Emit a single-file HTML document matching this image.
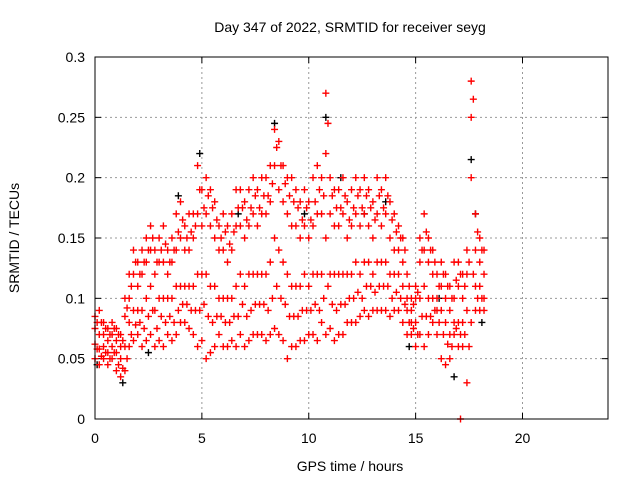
<!DOCTYPE html>
<html><head><meta charset="utf-8"><style>
body{margin:0;background:#fff}
svg{display:block;font-family:"Liberation Sans",sans-serif}
</style></head><body>
<svg id="chart" width="640" height="480" viewBox="0 0 640 480">
<rect width="640" height="480" fill="#fff"/>
<text x="350" y="32" font-size="14" text-anchor="middle">Day 347 of 2022, SRMTID for receiver seyg</text>
<g id="grid"></g>
<g id="axes"></g>
<g id="marks"></g>
<rect x="95" y="57" width="513" height="362" fill="none" stroke="#000" stroke-width="1"/>
<text x="350" y="471" font-size="14" text-anchor="middle">GPS time / hours</text>
<text transform="translate(19,238) rotate(-90)" font-size="14" text-anchor="middle">SRMTID / TECUs</text>
</svg>
<script>
const hours=[0,0.2,0.4,0.6,0.8,1.0,1.2,1.4,1.6,1.8,2.0,2.2,2.4,2.6,2.8,3.0,3.2,3.4,3.6,3.8,4.0,4.2,4.4,4.6,4.8,5.0,5.2,5.4,5.6,5.8,6.0,6.2,6.4,6.6,6.8,7.0,7.2,7.4,7.6,7.8,8.0,8.2,8.4,8.6,8.8,9.0,9.2,9.4,9.6,9.8,10.0,10.2,10.4,10.6,10.8,11.0,11.2,11.4,11.6,11.8,12.0,12.2,12.4,12.6,12.8,13.0,13.2,13.4,13.6,13.8,14.0,14.2,14.4,14.6,14.8,15.0,15.2,15.4,15.6,15.8,16.0,16.2,16.4,16.6,16.8,17.0,17.2,17.4,17.6,17.8,18.0,18.2];
const hiVals=[0.085,0.09,0.08,0.075,0.08,0.075,0.07,0.1,0.12,0.14,0.13,0.14,0.15,0.16,0.14,0.15,0.16,0.14,0.15,0.17,0.18,0.16,0.17,0.17,0.21,0.19,0.2,0.19,0.18,0.16,0.17,0.16,0.17,0.19,0.19,0.18,0.19,0.2,0.19,0.2,0.2,0.21,0.24,0.23,0.21,0.2,0.2,0.19,0.18,0.19,0.18,0.2,0.21,0.2,0.27,0.2,0.19,0.19,0.2,0.18,0.19,0.2,0.19,0.2,0.19,0.18,0.2,0.19,0.2,0.18,0.17,0.16,0.15,0.12,0.1,0.11,0.15,0.17,0.15,0.14,0.12,0.13,0.12,0.11,0.13,0.13,0.12,0.14,0.28,0.17,0.15,0.14];
const m2Vals=[0.075,0.07,0.07,0.065,0.07,0.065,0.06,0.085,0.1,0.12,0.11,0.12,0.13,0.14,0.12,0.13,0.13,0.12,0.13,0.14,0.15,0.14,0.14,0.15,0.17,0.16,0.17,0.16,0.15,0.14,0.14,0.13,0.14,0.16,0.16,0.15,0.16,0.17,0.16,0.17,0.17,0.18,0.21,0.19,0.18,0.17,0.16,0.16,0.15,0.16,0.15,0.16,0.17,0.17,0.22,0.17,0.16,0.16,0.17,0.15,0.16,0.17,0.16,0.17,0.16,0.15,0.17,0.16,0.17,0.15,0.14,0.14,0.13,0.1,0.09,0.1,0.13,0.14,0.13,0.12,0.1,0.11,0.1,0.09,0.1,0.11,0.1,0.12,0.25,0.14,0.13,0.12];
const m1Vals=[0.062,0.058,0.06,0.055,0.06,0.055,0.05,0.06,0.08,0.09,0.09,0.09,0.1,0.11,0.09,0.1,0.1,0.1,0.1,0.11,0.11,0.11,0.11,0.11,0.12,0.12,0.12,0.11,0.11,0.1,0.1,0.1,0.1,0.11,0.12,0.11,0.12,0.12,0.12,0.12,0.12,0.13,0.15,0.14,0.13,0.12,0.11,0.11,0.11,0.12,0.11,0.12,0.12,0.12,0.15,0.12,0.12,0.12,0.12,0.12,0.12,0.13,0.12,0.13,0.13,0.12,0.13,0.13,0.13,0.12,0.12,0.12,0.11,0.09,0.08,0.08,0.1,0.11,0.1,0.1,0.09,0.09,0.08,0.07,0.08,0.08,0.08,0.09,0.2,0.11,0.11,0.1];
const loVals=[0.05,0.045,0.05,0.045,0.05,0.04,0.035,0.04,0.06,0.065,0.07,0.06,0.065,0.07,0.06,0.065,0.06,0.07,0.065,0.07,0.08,0.08,0.075,0.07,0.06,0.065,0.05,0.055,0.06,0.07,0.06,0.06,0.065,0.06,0.07,0.06,0.065,0.07,0.07,0.07,0.065,0.07,0.075,0.07,0.065,0.05,0.06,0.06,0.065,0.065,0.07,0.07,0.065,0.08,0.07,0.075,0.065,0.07,0.07,0.08,0.08,0.08,0.085,0.09,0.085,0.09,0.09,0.09,0.09,0.085,0.09,0.09,0.08,0.07,0.07,0.06,0.07,0.06,0.07,0.08,0.07,0.05,0.045,0.05,0.07,0.06,0.06,0.03,0.08,0.09,0.09,0.09];
const hoursB=[0.1,0.3,0.5,0.7,0.9,1.1,1.3,1.5,1.7,1.9,2.1,2.3,2.5,2.7,2.9,3.1,3.3,3.5,3.7,3.9,4.1,4.3,4.5,4.7,4.9,5.1,5.3,5.5,5.7,5.9,6.1,6.3,6.5,6.7,6.9,7.1,7.3,7.5,7.7,7.9,8.1,8.3,8.5,8.7,8.9,9.1,9.3,9.5,9.7,9.9,10.1,10.3,10.5,10.7,10.9,11.1,11.3,11.5,11.7,11.9,12.1,12.3,12.5,12.7,12.9,13.1,13.3,13.5,13.7,13.9,14.1,14.3,14.5,14.7,14.9,15.1,15.3,15.5,15.7,15.9,16.1,16.3,16.5,16.7,16.9,17.1,17.3,17.5,17.7,17.9,18.1];
const aVals=[0.058,0.052,0.055,0.05,0.055,0.045,0.042,0.05,0.07,0.078,0.08,0.075,0.085,0.09,0.075,0.085,0.08,0.085,0.08,0.09,0.095,0.095,0.09,0.09,0.09,0.095,0.085,0.08,0.085,0.085,0.08,0.08,0.085,0.085,0.095,0.085,0.09,0.095,0.095,0.095,0.09,0.1,0.11,0.1,0.095,0.085,0.085,0.085,0.09,0.09,0.09,0.095,0.09,0.1,0.11,0.095,0.09,0.095,0.095,0.1,0.1,0.105,0.1,0.11,0.11,0.105,0.11,0.11,0.11,0.1,0.105,0.1,0.095,0.08,0.075,0.07,0.085,0.085,0.085,0.09,0.08,0.07,0.062,0.06,0.075,0.07,0.07,0.06,0.12,0.1,0.1];
const bVals=[0.08,0.08,0.075,0.07,0.075,0.07,0.065,0.092,0.11,0.13,0.12,0.13,0.14,0.15,0.13,0.14,0.145,0.13,0.14,0.155,0.165,0.15,0.155,0.16,0.19,0.175,0.185,0.175,0.165,0.15,0.155,0.145,0.155,0.175,0.175,0.165,0.175,0.185,0.175,0.185,0.185,0.195,0.225,0.21,0.195,0.185,0.18,0.175,0.165,0.175,0.165,0.18,0.19,0.185,0.245,0.185,0.175,0.175,0.185,0.165,0.175,0.185,0.175,0.185,0.175,0.165,0.185,0.175,0.185,0.165,0.155,0.15,0.14,0.11,0.095,0.105,0.14,0.155,0.14,0.13,0.11,0.12,0.11,0.1,0.115,0.12,0.11,0.13,0.265,0.155,0.14];
const blackHours=[0.1,1.3,2.5,3.9,4.9,6.7,8.4,9.8,10.8,11.5,12.6,13.6,14.7,16.1,16.8,17.6,17.8,18.1];
const blackVals=[0.045,0.03,0.055,0.185,0.22,0.17,0.245,0.17,0.25,0.2,0.17,0.18,0.06,0.1,0.035,0.215,0.17,0.08];
const zeroHours=[17.1];
const zeroVals=[0];
const xTicks=[0,5,10,15,20];
const yTicks=[0,0.05,0.1,0.15,0.2,0.25,0.3];
const yTickLabels=["0","0.05","0.1","0.15","0.2","0.25","0.3"];

const X0=95,X1=608,Y0=419,Y1=57;
function xs(v){return X0+(v/24)*(X1-X0);}
function ys(v){return Y0-(v/0.3)*(Y0-Y1);}
const NS="http://www.w3.org/2000/svg";
const grid=document.getElementById('grid'),axes=document.getElementById('axes'),marks=document.getElementById('marks');
function mk(t,a,p){const e=document.createElementNS(NS,t);for(const k in a)e.setAttribute(k,a[k]);p.appendChild(e);return e;}
xTicks.forEach(t=>{
  const x=xs(t);
  if(t>0){const g=mk('line',{x1:x,x2:x,y1:Y0,y2:Y1,stroke:'#999','stroke-dasharray':'2,3'},grid);
  
  }
  mk('line',{x1:x,x2:x,y1:Y0,y2:Y0-6,stroke:'#000'},axes);
  mk('line',{x1:x,x2:x,y1:Y1,y2:Y1+6,stroke:'#000'},axes);
  const l=mk('text',{x:x,y:Y0+24,'font-size':14,'text-anchor':'middle'},axes);l.textContent=t;
  
  
});
yTicks.forEach((t,i)=>{
  const y=ys(t);
  if(t>0&&t<0.3){const g=mk('line',{x1:X0,x2:X1,y1:y,y2:y,stroke:'#999','stroke-dasharray':'2,3'},grid);
  
  }
  mk('line',{x1:X0,x2:X0+6,y1:y,y2:y,stroke:'#000'},axes);
  mk('line',{x1:X1,x2:X1-6,y1:y,y2:y,stroke:'#000'},axes);
  const l=mk('text',{x:X0-10,y:y+5,'font-size':14,'text-anchor':'end'},axes);l.textContent=yTickLabels[i];
  
  
});
function plus(h,v,c,name){
  const x=xs(h),y=ys(v);
  const p=mk('path',{d:`M${x-3.5},${y}H${x+3.5}M${x},${y-3.5}V${y+3.5}`,stroke:c,'stroke-width':1.4,fill:'none'},marks);
  
  
}
blackHours.forEach((h,i)=>plus(h,blackVals[i],'#000','srmtid-point-alt'));
[loVals,m1Vals,m2Vals,hiVals].forEach(arr=>{
  const n=Math.min(hours.length,arr.length);
  for(let i=0;i<n;i++)plus(hours[i],arr[i],'#f00','srmtid-point');
});
[aVals,bVals].forEach(arr=>{
  const n=Math.min(hoursB.length,arr.length);
  for(let i=0;i<n;i++)plus(hoursB[i],arr[i],'#f00','srmtid-point');
});
zeroHours.forEach((h,i)=>plus(h,zeroVals[i],'#f00','srmtid-zero-point'));
</script>
</body></html>
